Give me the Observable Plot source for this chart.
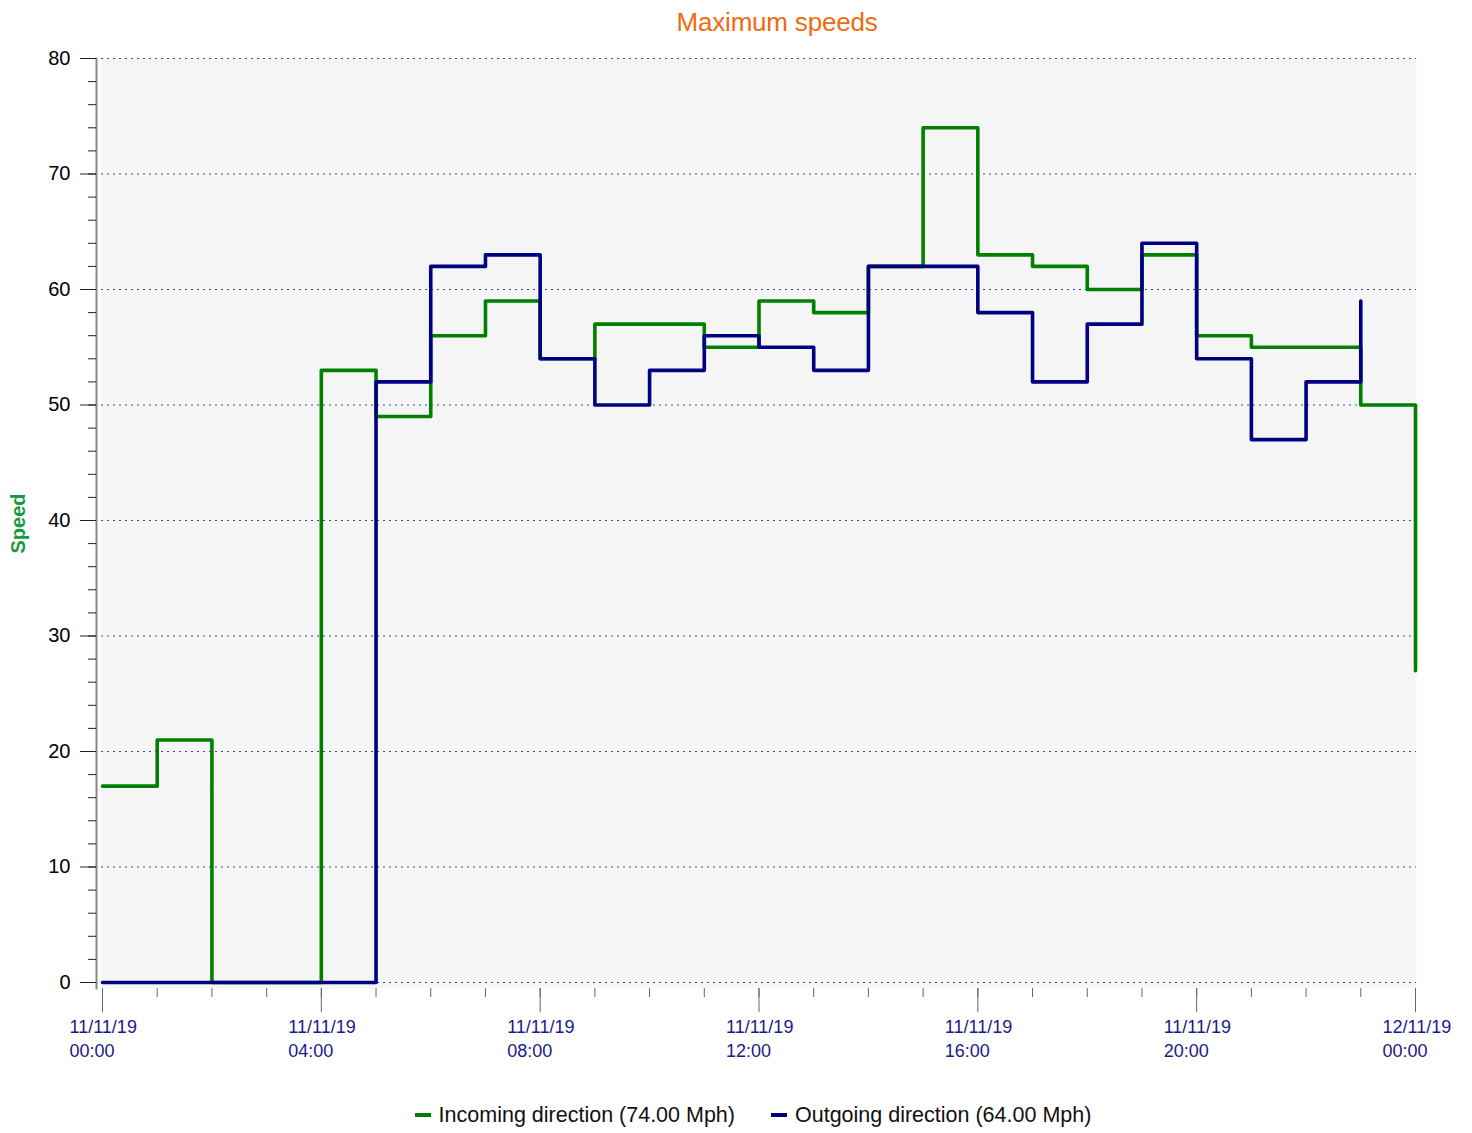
<!DOCTYPE html>
<html>
<head>
<meta charset="utf-8">
<script src="https://cdn.jsdelivr.net/npm/d3@7"></script>
<script src="https://cdn.jsdelivr.net/npm/@observablehq/plot@0.6"></script>
<style>
  html, body { margin: 0; padding: 0; background: #fff; }
  body { width: 1472px; font-family: "Liberation Sans", Arial, sans-serif; }
  #title { height: 45px; line-height: 45px; text-align: center; color: #f06a10; font-size: 26px; letter-spacing: -0.2px; padding-left: 82px; }
  #chart svg { display: block; }
  #legend { height: 50px; display: flex; justify-content: center; align-items: center; font-size: 21.5px; color: #111; gap: 36px; padding-left: 34px; }
  .item { display: flex; align-items: center; }
  .sw { display: inline-block; width: 16px; height: 4px; margin-right: 8px; }
</style>
</head>
<body>
<div id="title">Maximum speeds</div>
<div id="chart"></div>
<div id="legend"></div>
<script>
// Hour offsets from 11/11/19 00:00
const hoursIn = [0,1,2,3,4,5,6,7,8,9,10,11,12,13,14,15,16,17,18,19,20,21,22,23,24];
const incoming = [17,21,0,0,53,49,56,59,54,57,57,55,59,58,62,74,63,62,60,63,56,55,55,50,27];
const hoursOut = [0,1,2,3,4,5,6,7,8,9,10,11,12,13,14,15,16,17,18,19,20,21,22,23];
const outgoing = [0,0,0,0,0,52,62,63,54,50,53,56,55,53,62,62,58,52,57,64,54,47,52,59];

const xTicks = [0,4,8,12,16,20,24];
const xTickLabels = ["11/11/19\n00:00","11/11/19\n04:00","11/11/19\n08:00","11/11/19\n12:00","11/11/19\n16:00","11/11/19\n20:00","12/11/19\n00:00"];
const xMinorTicks = [0,1,2,3,4,5,6,7,8,9,10,11,12,13,14,15,16,17,18,19,20,21,22,23,24];
const yTicks = [0,10,20,30,40,50,60,70,80];
const yMinorTicks = [0,2,4,6,8,10,12,14,16,18,20,22,24,26,28,30,32,34,36,38,40,42,44,46,48,50,52,54,56,58,60,62,64,66,68,70,72,74,76,78,80];

const seriesNames = ["Incoming direction (74.00 Mph)", "Outgoing direction (64.00 Mph)"];
const seriesColors = ["#008000", "#000080"];

const inData = hoursIn.map((h, i) => ({h, v: incoming[i]}));
const outData = hoursOut.map((h, i) => ({h, v: outgoing[i]}));

const none = () => "";

const plot = Plot.plot({
  width: 1472,
  height: 1045,
  marginTop: 13,
  marginBottom: 102,
  marginLeft: 101,
  marginRight: 56,
  insetLeft: 1,
  insetRight: 1,
  insetBottom: 6,
  style: { fontFamily: "Liberation Sans, Arial, sans-serif", fontSize: "18px", background: "#fff" },
  x: { domain: [0, 24] },
  y: { domain: [0, 80] },
  marks: [
    Plot.frame({ fill: "#f5f5f5", stroke: null }),
    Plot.gridY(yTicks, { stroke: "#3030a0", strokeOpacity: 0.9, strokeDasharray: "2,4", strokeWidth: 1.2 }),
    Plot.frame({ anchor: "left", stroke: "#888", strokeWidth: 2, dx: -5 }),
    Plot.axisY(yMinorTicks, { tickSize: 8, dx: -5, tickFormat: none, stroke: "#222", label: null }),
    Plot.axisY(yTicks, { tickSize: 16, dx: -5, tickPadding: 10, fill: "#000", stroke: "#222", fontSize: 20, label: null, tickFormat: d => String(d) }),
    Plot.axisX(xMinorTicks, { tickSize: 9, tickFormat: none, stroke: "#666", label: null }),
    Plot.axisX(xTicks, { tickSize: 24, tickFormat: none, stroke: "#666", label: null }),
    Plot.axisX(xTicks, { tickSize: 0, stroke: null, fill: "#1a1a8a", textAnchor: "start", dx: -33, tickPadding: 28, lineHeight: 1.33, letterSpacing: -0.5, label: null, tickFormat: (d, i) => xTickLabels[i] }),
    Plot.text(["Speed"], { frameAnchor: "left", textAnchor: "middle", rotate: -90, dx: -83, fill: "#189a3c", fontWeight: "bold", fontSize: 20 }),
    Plot.line(inData, { x: "h", y: "v", curve: "step-after", stroke: seriesColors[0], strokeWidth: 3.6 }),
    Plot.line(outData, { x: "h", y: "v", curve: "step-after", stroke: seriesColors[1], strokeWidth: 3.6 })
  ]
});
document.getElementById("chart").appendChild(plot);

const legend = document.getElementById("legend");
seriesNames.forEach((name, i) => {
  const item = document.createElement("div");
  item.className = "item";
  const sw = document.createElement("span");
  sw.className = "sw";
  sw.style.background = seriesColors[i];
  const t = document.createElement("span");
  t.textContent = name;
  item.appendChild(sw);
  item.appendChild(t);
  legend.appendChild(item);
});
</script>
</body>
</html>
